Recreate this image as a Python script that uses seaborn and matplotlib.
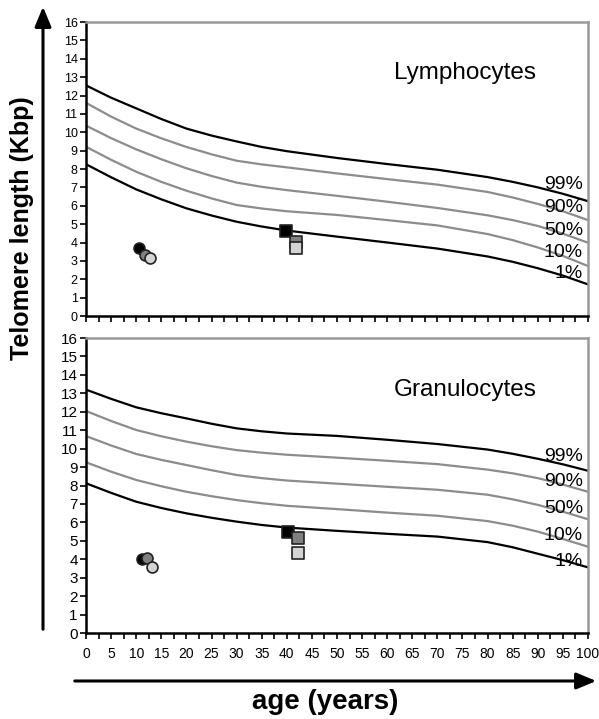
import numpy as np
import pandas as pd
import matplotlib
matplotlib.use("Agg")
import matplotlib.pyplot as plt
import seaborn as sns

sns.set_style("ticks")
plt.rcParams['font.family'] = ['Liberation Sans', 'DejaVu Sans']
plt.rcParams['text.color'] = 'black'
plt.rcParams['xtick.color'] = 'black'
plt.rcParams['ytick.color'] = 'black'

# --- datos ---
edades = [0, 5, 10, 15, 20, 25, 30, 35, 40, 50, 60, 70, 80, 85, 90, 95, 100]
percentiles = ['99%', '90%', '50%', '10%', '1%']

linf = {
    '99%': [12.55, 11.88, 11.3, 10.72, 10.2, 9.82, 9.5, 9.2, 8.97, 8.6, 8.27, 7.96, 7.56, 7.3, 7.0, 6.65, 6.25],
    '90%': [11.6, 10.85, 10.2, 9.67, 9.2, 8.8, 8.45, 8.25, 8.09, 7.76, 7.45, 7.15, 6.75, 6.45, 6.1, 5.7, 5.22],
    '50%': [10.36, 9.68, 9.07, 8.53, 8.04, 7.62, 7.26, 7.03, 6.85, 6.54, 6.22, 5.88, 5.48, 5.22, 4.9, 4.48, 3.99],
    '10%': [9.21, 8.5, 7.85, 7.3, 6.82, 6.4, 6.04, 5.85, 5.7, 5.5, 5.22, 4.93, 4.46, 4.13, 3.73, 3.27, 2.72],
    '1%': [8.26, 7.55, 6.89, 6.35, 5.86, 5.47, 5.13, 4.87, 4.65, 4.32, 4.0, 3.67, 3.24, 2.95, 2.6, 2.2, 1.72],
}
gran = {
    '99%': [13.2, 12.7, 12.24, 11.92, 11.64, 11.35, 11.1, 10.94, 10.82, 10.69, 10.48, 10.25, 9.95, 9.72, 9.45, 9.15, 8.8],
    '90%': [12.04, 11.5, 11.01, 10.67, 10.38, 10.13, 9.92, 9.78, 9.67, 9.51, 9.34, 9.16, 8.86, 8.66, 8.4, 8.05, 7.66],
    '50%': [10.68, 10.17, 9.71, 9.39, 9.11, 8.83, 8.57, 8.4, 8.27, 8.1, 7.93, 7.77, 7.5, 7.25, 6.95, 6.58, 6.17],
    '10%': [9.26, 8.75, 8.3, 7.96, 7.66, 7.42, 7.21, 7.04, 6.9, 6.72, 6.53, 6.36, 6.07, 5.82, 5.5, 5.1, 4.68],
    '1%': [8.12, 7.6, 7.12, 6.78, 6.49, 6.25, 6.04, 5.86, 5.72, 5.54, 5.38, 5.23, 4.93, 4.65, 4.3, 3.95, 3.56],
}

# pacientes (círculos y cuadrados): negro, gris, gris claro
circ_edad_l = [10.6, 11.7, 12.7]
circ_tl_l = [3.68, 3.3, 3.14]
cuad_edad_l = [39.8, 41.8, 41.8]
cuad_tl_l = [4.64, 4.04, 3.72]

circ_edad_g = [11.1, 12.2, 13.2]
circ_tl_g = [4.0, 4.05, 3.6]
cuad_edad_g = [40.3, 42.3, 42.3]
cuad_tl_g = [5.46, 5.13, 4.32]

colores_pac = ['#000000', '#808080', '#d4d4d4']

# posiciones de etiquetas de percentil (valor en eje y)
etiq_y_l = [7.18, 5.88, 4.68, 3.48, 2.34]
etiq_y_g = [9.56, 8.2, 6.76, 5.31, 3.87]

colores_lineas = {'99%': '#000000', '90%': '#8c8c8c', '50%': '#8c8c8c',
                  '10%': '#8c8c8c', '1%': '#000000'}


def a_largo(curvas):
    filas = []
    for p in percentiles:
        for e, v in zip(edades, curvas[p]):
            filas.append({'edad': e, 'tl': v, 'pct': p})
    return pd.DataFrame(filas)


fig = plt.figure(figsize=(5.99, 7.19), dpi=100)
ax1 = fig.add_axes([0.1436, 0.5605, 0.838, 0.4089])
ax2 = fig.add_axes([0.1436, 0.1196, 0.838, 0.4103])

paneles = [
    (ax1, linf, 'Lymphocytes', circ_edad_l, circ_tl_l, cuad_edad_l, cuad_tl_l, etiq_y_l, 9),
    (ax2, gran, 'Granulocytes', circ_edad_g, circ_tl_g, cuad_edad_g, cuad_tl_g, etiq_y_g, 11),
]

for ax, curvas, titulo, ce, ct, qe, qt, ety, fs_y in paneles:
    df = a_largo(curvas)
    sns.lineplot(data=df, x='edad', y='tl', hue='pct', palette=colores_lineas,
                 estimator=None, linewidth=1.6, legend=False, ax=ax)
    df_c = pd.DataFrame({'edad': ce, 'tl': ct, 'c': colores_pac})
    df_q = pd.DataFrame({'edad': qe, 'tl': qt, 'c': colores_pac})
    for _, r in df_c.iterrows():
        ax.scatter(r['edad'], r['tl'], s=62, color=r['c'], edgecolor='#222222',
                   linewidth=1.2, marker='o', zorder=4)
    for _, r in df_q.iterrows():
        ax.scatter(r['edad'], r['tl'], s=80, color=r['c'], edgecolor='#222222',
                   linewidth=1.2, marker='s', zorder=4)

    for p, yv in zip(percentiles, ety):
        ax.text(99, yv, p, ha='right', va='center', fontsize=14, zorder=5)
    ax.text(75.5, 13.2, titulo, ha='center', va='center', fontsize=17.5)

    ax.set_xlim(0, 100)
    ax.set_ylim(0, 16)
    ax.set_yticks(range(0, 17))
    ax.set_xticks(np.arange(0, 100.1, 2.5))
    ax.set_xlabel('')
    ax.set_ylabel('')
    ax.tick_params(axis='y', labelsize=fs_y, length=4, width=1.2, pad=2)
    ax.tick_params(axis='x', length=4, width=1.2)
    ax.spines['left'].set_color('black')
    ax.spines['bottom'].set_color('black')
    ax.spines['left'].set_linewidth(1.8)
    ax.spines['bottom'].set_linewidth(1.8)
    for s in ['top', 'right']:
        ax.spines[s].set_visible(True)
        ax.spines[s].set_color('#999999')
        ax.spines[s].set_linewidth(1.8)

ax1.set_xticklabels([])
etiquetas_x = [str(int(v)) if float(v).is_integer() and int(v) % 5 == 0 else '' for v in np.arange(0, 100.1, 2.5)]
ax2.set_xticklabels(etiquetas_x, fontsize=10)
ax2.tick_params(axis='x', pad=6)

# flechas de ejes
fig.patches.append(matplotlib.patches.FancyArrowPatch(
    (43 / 599, 1 - 632 / 719), (43 / 599, 1 - 4 / 719), transform=fig.transFigure,
    arrowstyle='-|>,head_length=12,head_width=5', mutation_scale=1, color='black', linewidth=2.2))
fig.patches.append(matplotlib.patches.FancyArrowPatch(
    (72 / 599, 1 - 681 / 719), (599 / 599, 1 - 681 / 719), transform=fig.transFigure,
    arrowstyle='-|>,head_length=12,head_width=5', mutation_scale=1, color='black', linewidth=2.2))

fig.text(22 / 599, 1 - 228 / 719, 'Telomere length (Kbp)', rotation=90, ha='center', va='center',
         fontsize=18, fontweight='bold')
fig.text(325 / 599, 1 - 702 / 719, 'age (years)', ha='center', va='center',
         fontsize=20, fontweight='bold')

fig.savefig('out.png', dpi=100)
